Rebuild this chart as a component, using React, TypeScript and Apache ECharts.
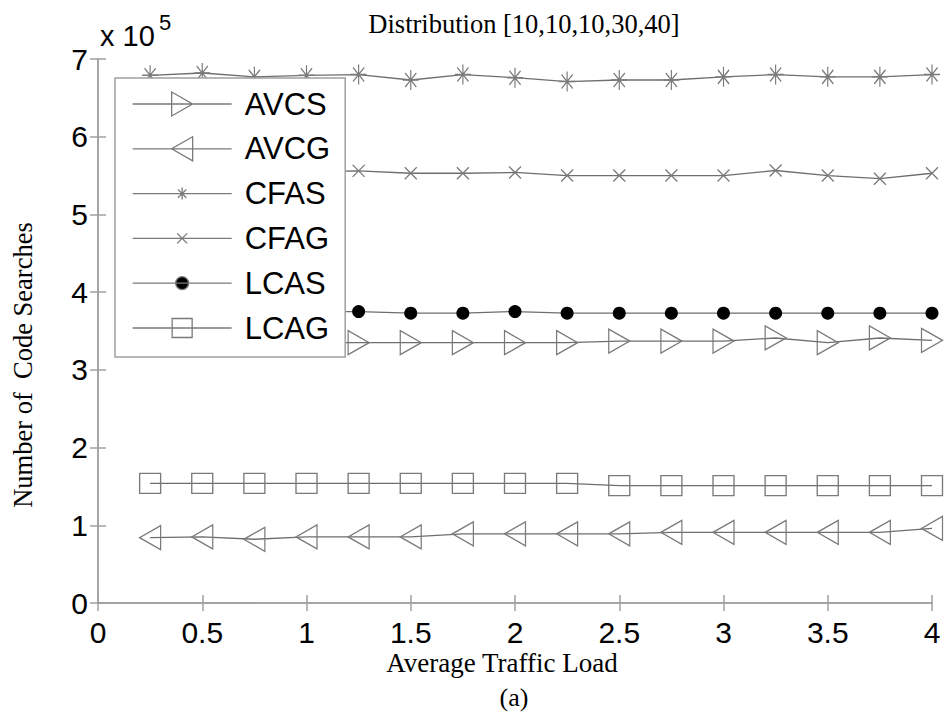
import React, { useEffect, useRef } from "react";
import * as echarts from "echarts";

// x: Average Traffic Load
const xValues = [0.25, 0.5, 0.75, 1, 1.25, 1.5, 1.75, 2, 2.25, 2.5, 2.75, 3, 3.25, 3.5, 3.75, 4];
// Number of code searches
const AVCS = [335000, 335000, 335000, 335000, 335000, 335000, 335000, 335000, 335000, 337000, 337000, 337000, 341000, 335000, 341000, 338000];
const AVCG = [84000, 85000, 82000, 85000, 85000, 85000, 89000, 89000, 89000, 89000, 91000, 91000, 91000, 91000, 91000, 96000];
const CFAS = [679000, 682000, 677000, 679000, 680000, 673000, 680000, 676000, 671000, 673000, 673000, 677000, 680000, 677000, 677000, 680000];
const CFAG = [555000, 555000, 555000, 555000, 556000, 553000, 553000, 554000, 550000, 550000, 550000, 550000, 556500, 550000, 546000, 553000];
const LCAS = [375000, 375000, 375000, 375000, 375000, 373000, 373000, 375000, 373000, 373000, 373000, 373000, 373000, 373000, 373000, 373000];
const LCAG = [154000, 154000, 154000, 154000, 154000, 154000, 154000, 154000, 154000, 151000, 151000, 151000, 151000, 151000, 151000, 151000];

const seriesNames = ["AVCS", "AVCG", "CFAS", "CFAG", "LCAS", "LCAG"];
const seriesValues = [AVCS, AVCG, CFAS, CFAG, LCAS, LCAG];
const yTicks = [0, 1, 2, 3, 4, 5, 6, 7];

const TITLE = "Distribution [10,10,10,30,40]";
const X_NAME = "Average Traffic Load";
const Y_NAME = "Number of  Code Searches";

const LINE = "#6e6e6e";
const MARK = "#7a7a7a";
const AXIS = "#a0a0a0";
const CLEAR = "rgba(0,0,0,0)";
const SANS = "Liberation Sans, Arial, sans-serif";
const SERIF = "Liberation Serif, Times New Roman, serif";

const symbols: any[] = [
  { symbol: "path://M0,0L20,12L0,24Z", size: [21, 24], fill: CLEAR },
  { symbol: "path://M20,0L0,12L20,24Z", size: [21, 24], fill: CLEAR },
  { symbol: "path://M10,0L10,20M0,10L20,10M3,3L17,17M17,3L3,17", size: [16, 20], fill: CLEAR },
  { symbol: "path://M0,0L12,12M12,0L0,12", size: [12, 12], fill: CLEAR },
  { symbol: "circle", size: 13, fill: "#000" },
  { symbol: "rect", size: [21, 20], fill: CLEAR },
];

// legend icons: a 99x24 box with the line and the marker in its middle
const BOX = "M0,0M99,24M0,12L99,12";
const legendIcons = [
  "path://" + BOX + "M39,0L60,12L39,24Z",
  "path://" + BOX + "M60,0L39,12L60,24Z",
  "path://" + BOX + "M49.5,6L49.5,18M43.5,12L55.5,12M45.3,7.8L53.7,16.2M53.7,7.8L45.3,16.2",
  "path://" + BOX + "M44.5,7L54.5,17M54.5,7L44.5,17",
  "path://" + BOX + "M43,12a6.5,6.5 0 1,0 13,0a6.5,6.5 0 1,0 -13,0Z",
  "path://" + BOX + "M39.5,2.5L59.5,2.5L59.5,21.5L39.5,21.5Z",
];

export default function App() {
  const ref = useRef<HTMLDivElement>(null);
  useEffect(() => {
    if (!ref.current) return;
    const chart = echarts.init(ref.current, undefined, { renderer: "svg" });
    const axisCommon = {
      type: "value" as const,
      axisLine: { show: true, lineStyle: { color: AXIS, width: 1.5 } },
      axisTick: { show: true, inside: true, length: 8, lineStyle: { color: AXIS, width: 1.5 } },
      splitLine: { show: false },
    };
    const series = seriesNames.map((name, i) => {
      const s = symbols[i];
      return {
        name,
        type: "line",
        xAxisIndex: 0,
        yAxisIndex: 0,
        data: xValues.map((x, j) => [x, seriesValues[i][j]]),
        symbol: s.symbol,
        symbolSize: s.size,
        showAllSymbol: true,
        lineStyle: { color: LINE, width: 1.3 },
        itemStyle: {
          color: s.fill,
          borderColor: i === 4 ? "#000" : MARK,
          borderWidth: i === 4 ? 0 : 1.3,
          opacity: 1,
        },
        z: 2,
      };
    });
    chart.setOption({
      animation: false,
      backgroundColor: "#fff",
      grid: { left: 98, right: 14, top: 59, bottom: 110, containLabel: false },
      xAxis: [
        {
          ...axisCommon,
          position: "bottom",
          min: 0,
          max: 4,
          interval: 0.5,
          axisLabel: { color: "#000", fontSize: 30, fontFamily: SANS, margin: 14 },
        },
        {
          ...axisCommon,
          position: "top",
          min: 0,
          max: 4,
          interval: 0.5,
          axisLabel: { show: false },
        },
      ],
      yAxis: [
        {
          ...axisCommon,
          position: "left",
          min: 0,
          max: 700000,
          interval: 100000,
          axisLabel: {
            color: "#000",
            fontSize: 30,
            fontFamily: SANS,
            margin: 10,
            formatter: (v: number) => String(yTicks[Math.round(v / 100000)]),
          },
        },
        {
          ...axisCommon,
          position: "right",
          min: 0,
          max: 700000,
          interval: 100000,
          axisLabel: { show: false },
        },
      ],
      legend: {
        orient: "vertical",
        left: 115,
        top: 78,
        data: seriesNames.map((name, i) => ({
          name,
          icon: legendIcons[i],
          itemStyle: {
            color: i === 4 ? "#000" : CLEAR,
            borderColor: MARK,
            borderWidth: 1.3,
          },
        })),
        itemWidth: 99,
        itemHeight: 24,
        itemGap: 13.8,
        padding: [10.5, 15, 13.5, 17],
        backgroundColor: "#fff",
        borderColor: AXIS,
        borderWidth: 1.5,
        borderRadius: 0,
        textStyle: {
          color: "#000",
          fontSize: 31,
          fontFamily: SANS,
          lineHeight: 31,
          padding: [0, 0, 0, 8],
        },
        z: 10,
      },
      graphic: [
        {
          type: "text",
          x: 524,
          y: 23.5,
          style: { text: TITLE, fontSize: 26.5, fontFamily: SERIF, fill: "#000", align: "center", verticalAlign: "middle" },
        },
        {
          type: "text",
          x: 100,
          y: 36,
          style: { text: "x 10", fontSize: 29, fontFamily: SANS, fill: "#000", align: "left", verticalAlign: "middle" },
        },
        {
          type: "text",
          x: 159,
          y: 22,
          style: { text: "5", fontSize: 22, fontFamily: SANS, fill: "#000", align: "left", verticalAlign: "middle" },
        },
        {
          type: "text",
          x: 502,
          y: 663,
          style: { text: X_NAME, fontSize: 27, fontFamily: SERIF, fill: "#000", align: "center", verticalAlign: "middle" },
        },
        {
          type: "text",
          x: 514,
          y: 697,
          style: { text: "(a)", fontSize: 26, fontFamily: SERIF, fill: "#000", align: "center", verticalAlign: "middle" },
        },
        {
          type: "text",
          x: 23,
          y: 365,
          rotation: Math.PI / 2,
          style: { text: Y_NAME, fontSize: 26.5, fontFamily: SERIF, fill: "#000", align: "center", verticalAlign: "middle" },
        },
      ],
      series,
    });
    return () => chart.dispose();
  }, []);
  return <div ref={ref} style={{ width: 946, height: 713, position: "absolute", left: 0, top: 0 }} />;
}
